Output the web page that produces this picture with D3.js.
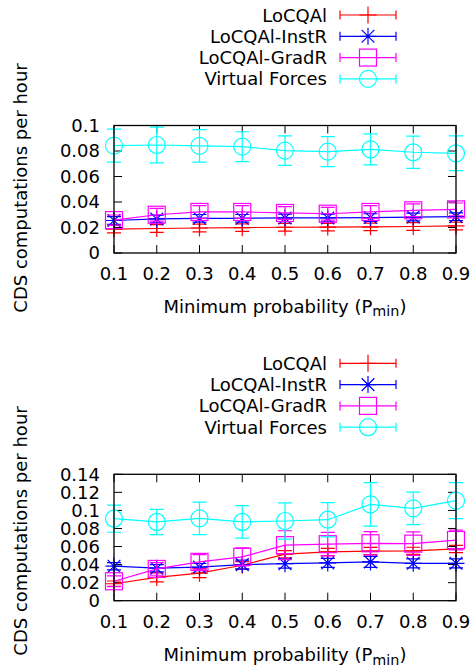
<!DOCTYPE html>
<html><head><meta charset="utf-8">
<script src="https://cdn.jsdelivr.net/npm/d3@7"></script>
<style>html,body{margin:0;padding:0;background:#fff}svg{display:block}</style>
</head><body>
<script>
const pmin = [0.1,0.2,0.3,0.4,0.5,0.6,0.7,0.8,0.9];
const seriesNames = ["LoCQAl","LoCQAl-InstR","LoCQAl-GradR","Virtual Forces"];
const seriesColors = ["#ff0000","#0000ff","#ff00ff","#00ffff"];
const seriesMarkers = ["plus","star","square","circle"];

// Top chart
const locqalTop = [0.0188,0.0192,0.0196,0.0199,0.0202,0.0203,0.0205,0.0208,0.0212];
const locqalTopErr = [0.003,0.003,0.003,0.003,0.003,0.003,0.003,0.003,0.003];
const instrTop = [0.0255,0.0267,0.0272,0.0272,0.0275,0.0275,0.0278,0.0282,0.0285];
const instrTopErr = [0.003,0.003,0.003,0.003,0.003,0.003,0.003,0.003,0.003];
const gradrTop = [0.0258,0.0300,0.0322,0.0322,0.0314,0.0308,0.0322,0.0335,0.0342];
const gradrTopErr = [0.004,0.005,0.005,0.005,0.005,0.005,0.005,0.005,0.005];
const vfTop = [0.0842,0.0847,0.0840,0.0834,0.0803,0.0795,0.0813,0.0790,0.0782];
const vfTopErr = [0.013,0.014,0.0127,0.0117,0.0115,0.0118,0.0122,0.0127,0.0136];
const yTicksTop = [0,0.02,0.04,0.06,0.08,0.1];

// Bottom chart
const locqalBot = [0.0188,0.0258,0.0305,0.0393,0.0515,0.0540,0.0550,0.0552,0.0573];
const locqalBotErr = [0.003,0.005,0.005,0.004,0.004,0.004,0.004,0.004,0.004];
const instrBot = [0.0382,0.0360,0.0372,0.0400,0.0410,0.0418,0.0430,0.0414,0.0414];
const instrBotErr = [0.004,0.004,0.004,0.005,0.005,0.005,0.006,0.005,0.005];
const gradrBot = [0.0215,0.0352,0.0430,0.0486,0.0615,0.0626,0.0636,0.0632,0.0672];
const gradrBotErr = [0.006,0.007,0.008,0.010,0.016,0.013,0.013,0.013,0.011];
const vfBot = [0.0908,0.0872,0.0912,0.0872,0.0883,0.0897,0.1067,0.1023,0.1108];
const vfBotErr = [0.015,0.014,0.018,0.018,0.020,0.019,0.024,0.018,0.020];
const yTicksBot = [0,0.02,0.04,0.06,0.08,0.1,0.12,0.14];

const xTickLabels = ["0.1","0.2","0.3","0.4","0.5","0.6","0.7","0.8","0.9"];
const yLabel = "CDS computations per hour";

const W = 475, H = 666;
const FONT = "'DejaVu Sans', sans-serif";
const FS = 18;
const svg = d3.select("body").append("svg").attr("width", W).attr("height", H)
  .style("font-family", FONT);

function marker(g, type, x, y, color) {
  const s = 8.5;
  if (type === "plus") {
    g.append("path").attr("d", `M${x-s},${y}H${x+s}M${x},${y-s}V${y+s}`)
      .attr("stroke", color).attr("stroke-width", 1.2).attr("fill", "none");
  } else if (type === "star") {
    const d = s*0.75;
    g.append("path").attr("d", `M${x-s},${y}H${x+s}M${x},${y-s}V${y+s}M${x-d},${y-d}L${x+d},${y+d}M${x-d},${y+d}L${x+d},${y-d}`)
      .attr("stroke", color).attr("stroke-width", 1.2).attr("fill", "none");
  } else if (type === "square") {
    g.append("rect").attr("x", x-s).attr("y", y-s).attr("width", 2*s).attr("height", 2*s)
      .attr("stroke", color).attr("stroke-width", 1.2).attr("fill", "none");
  } else {
    g.append("circle").attr("cx", x).attr("cy", y).attr("r", s)
      .attr("stroke", color).attr("stroke-width", 1.2).attr("fill", "none");
  }
}

function chart(cfg) {
  const {top, bottom, yMax, yTicks, series, legendY, tickBase, xlabBase, ylabY} = cfg;
  const left = 114, right = 456;
  const x = d3.scaleLinear().domain([0.1, 0.9]).range([left, right]);
  const y = d3.scaleLinear().domain([0, yMax]).range([bottom, top]);
  const g = svg.append("g");

  // ticks (inward, mirrored)
  const tl = 8;
  const ax = g.append("g").attr("stroke", "#000").attr("stroke-width", 1);
  yTicks.forEach(t => {
    ax.append("line").attr("x1", left).attr("x2", left+tl).attr("y1", y(t)).attr("y2", y(t));
    ax.append("line").attr("x1", right).attr("x2", right-tl).attr("y1", y(t)).attr("y2", y(t));
    g.append("text").attr("x", 100).attr("y", y(t)+6.3).attr("text-anchor", "end")
      .attr("font-size", FS).attr("fill", "#000").text(d3.format("")(t));
  });
  pmin.forEach((p, i) => {
    ax.append("line").attr("x1", x(p)).attr("x2", x(p)).attr("y1", bottom).attr("y2", bottom-tl);
    ax.append("line").attr("x1", x(p)).attr("x2", x(p)).attr("y1", top).attr("y2", top+tl);
    g.append("text").attr("x", x(p)).attr("y", tickBase).attr("text-anchor", "middle")
      .attr("font-size", FS).attr("fill", "#000").text(xTickLabels[i]);
  });

  // x label
  const xl = g.append("text").attr("x", (left+right)/2).attr("y", xlabBase)
    .attr("text-anchor", "middle").attr("font-size", FS).attr("fill", "#000");
  xl.append("tspan").text("Minimum probability (P");
  xl.append("tspan").attr("font-size", FS*0.8).attr("dy", 3.5).text("min");
  xl.append("tspan").attr("dy", -3.5).text(")");

  // y label
  g.append("text").attr("transform", `translate(27,${ylabY}) rotate(-90)`)
    .attr("text-anchor", "middle").attr("font-size", FS).attr("fill", "#000").text(yLabel);

  // series
  const line = d3.line().x((d) => x(d[0])).y((d) => y(d[1]));
  const cap = 7;
  series.forEach((s, si) => {
    const color = seriesColors[si];
    const sg = g.append("g");
    const pts = pmin.map((p, i) => [p, s.vals[i], s.errs[i]]);
    sg.append("path").attr("d", line(pts)).attr("stroke", color).attr("stroke-width", 1.2).attr("fill", "none");
    pts.forEach(d => {
      const cx = x(d[0]), y1 = y(d[1]-d[2]), y2 = y(d[1]+d[2]);
      sg.append("path").attr("d", `M${cx},${y1}V${y2}M${cx-cap},${y1}H${cx+cap}M${cx-cap},${y2}H${cx+cap}`)
        .attr("stroke", color).attr("stroke-width", 1.2).attr("fill", "none");
      marker(sg, seriesMarkers[si], cx, y(d[1]), color);
    });
  });

  // frame
  g.append("rect").attr("x", left).attr("y", top).attr("width", right-left).attr("height", bottom-top)
    .attr("fill", "none").attr("stroke", "#000").attr("stroke-width", 1.3);

  // legend
  const lg = g.append("g");
  seriesNames.forEach((n, i) => {
    const ly = legendY + i*21.3;
    const color = seriesColors[i];
    lg.append("text").attr("x", 327).attr("y", ly+6.5).attr("text-anchor", "end")
      .attr("font-size", FS).attr("fill", "#000").text(n);
    lg.append("path").attr("d", `M340,${ly}H396M340,${ly-4.5}V${ly+4.5}M396,${ly-4.5}V${ly+4.5}`)
      .attr("stroke", color).attr("stroke-width", 1.2).attr("fill", "none");
    marker(lg, seriesMarkers[i], 368, ly, color);
  });
}

chart({
  top: 125.5, bottom: 253, yMax: 0.1, yTicks: yTicksTop,
  series: [
    {vals: locqalTop, errs: locqalTopErr},
    {vals: instrTop, errs: instrTopErr},
    {vals: gradrTop, errs: gradrTopErr},
    {vals: vfTop, errs: vfTopErr}
  ],
  legendY: 15, tickBase: 280, xlabBase: 312.5, ylabY: 188
});
chart({
  top: 474.3, bottom: 600.7, yMax: 0.14, yTicks: yTicksBot,
  series: [
    {vals: locqalBot, errs: locqalBotErr},
    {vals: instrBot, errs: instrBotErr},
    {vals: gradrBot, errs: gradrBotErr},
    {vals: vfBot, errs: vfBotErr}
  ],
  legendY: 363.3, tickBase: 628, xlabBase: 661, ylabY: 531
});
</script>
</body></html>
